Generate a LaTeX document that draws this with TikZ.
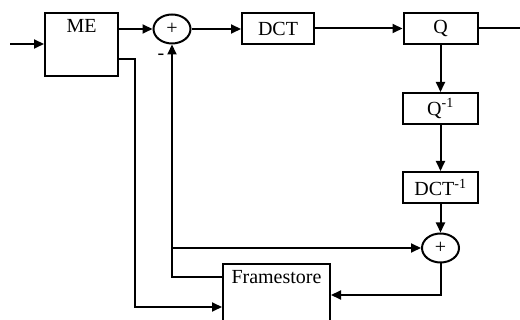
\documentclass[tikz,border=0pt]{standalone}
\usepackage{fontspec}
\setmainfont{Liberation Serif}
\usetikzlibrary{arrows.meta,shapes.geometric}

\begin{document}
\begin{tikzpicture}[x=1pt, y=-1pt, line width=2pt,
  every node/.style={font=\fontsize{20}{23}\selectfont, inner sep=3pt},
  box/.style={draw, line width=2pt, minimum height=31pt},
  sum/.style={draw, ellipse, line width=2pt, minimum width=37pt, minimum height=29pt, inner sep=0pt},
  flow/.style={-{Triangle[length=10pt,width=9pt]}}]
\useasboundingbox (0,0) rectangle (520,320);
\clip (0,0) rectangle (520,320);
% blocks
\node[box, minimum width=73pt, text height=17pt, text depth=40pt] (me) at (81.5,44.5) {ME};
\node[sum] (sum1) at (172,29) {+};
\node[box, minimum width=72pt] (dct) at (278,28.5) {DCT};
\node[box, minimum width=74pt] (q) at (440.5,28.5) {Q};
\node[box, minimum width=75pt] (qinv) at (440.5,108.5) {Q\textsuperscript{-1}};
\node[box, minimum width=75pt] (dctinv) at (440.5,187.5) {DCT\textsuperscript{-1}};
\node[sum] (sum2) at (440.5,248) {+};
\node[box, minimum width=107pt, text height=17pt, text depth=44pt, anchor=north] (fs) at (276.5,263) {Framestore};
\node[inner sep=0pt] (minus) at (161,57) {-};
% helper points
\coordinate (in) at (10,44);
\coordinate (out) at (520,29);
\coordinate (mv) at (135,59);
\coordinate (mvin) at (135,307);
\coordinate (fb) at (172,277);
\coordinate (rec) at (440.5,295);
% connectors
\draw[flow] (in) -- (in -| me.west);
\draw[flow] (me.east |- sum1) -- (sum1.west);
\draw[flow] (sum1.east) -- (dct.west |- sum1);
\draw[flow] (dct.east) -- (q.west);
\draw (q.east) -- (q.east -| out);
\draw[flow] (q.south) -- (qinv.north);
\draw[flow] (qinv.south) -- (dctinv.north);
\draw[flow] (dctinv.south) -- (sum2.north);
\draw[flow] (me.east |- mv) -- (mv) -- (mvin) -- (fs.west |- mvin);
\draw[flow] (fs.west |- fb) -| (sum1.south);
\draw[flow] (sum1.south |- sum2) -- (sum2.west);
\draw[flow] (sum2.south) -- (rec) -- (fs.east |- rec);
\end{tikzpicture}
\end{document}
